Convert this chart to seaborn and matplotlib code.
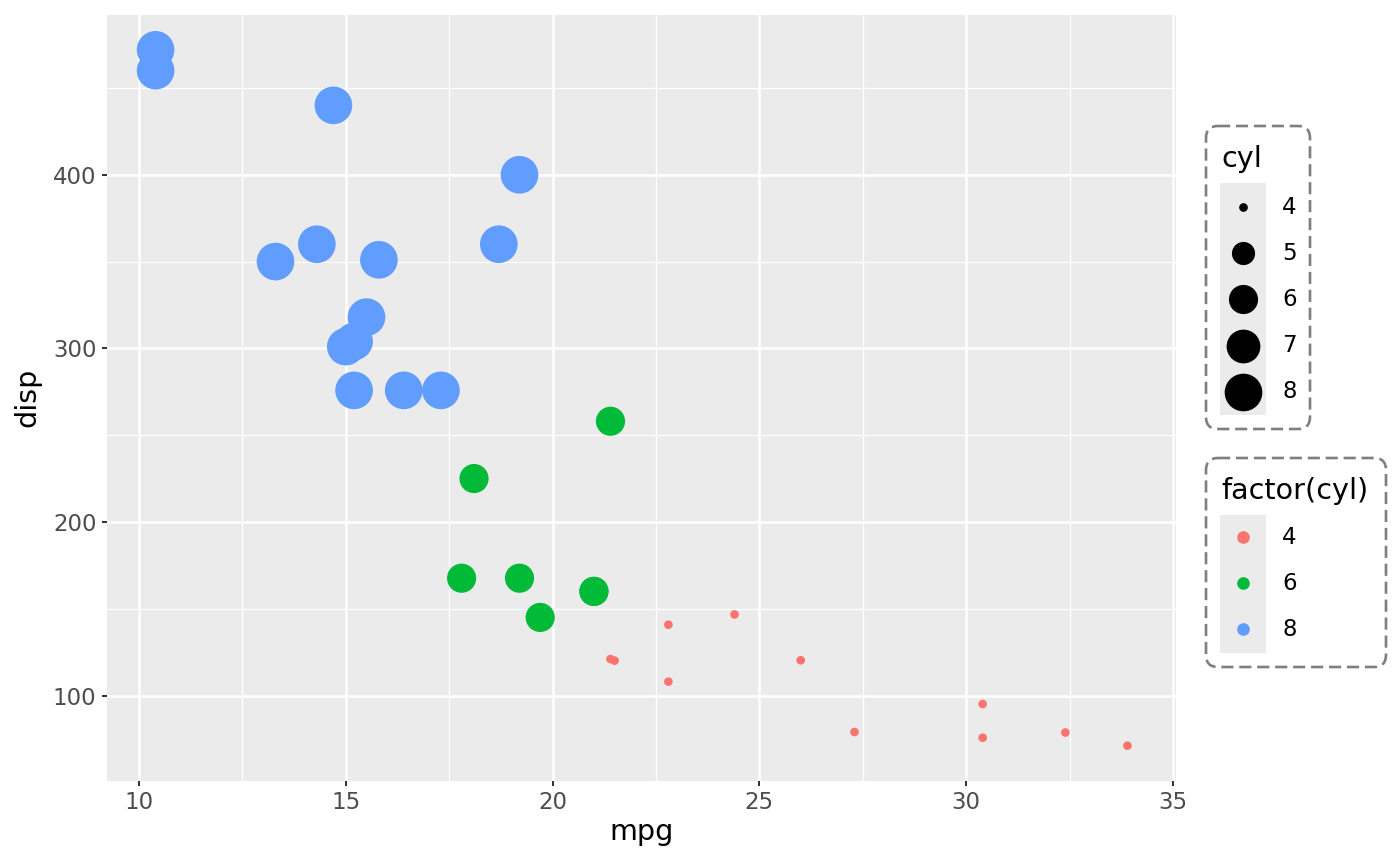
import numpy as np
import pandas as pd
import matplotlib
matplotlib.use("Agg")
import matplotlib.pyplot as plt
import seaborn as sns
from matplotlib.patches import FancyBboxPatch, Rectangle
from matplotlib.ticker import MultipleLocator

# mtcars data
mpg = [21.0, 21.0, 22.8, 21.4, 18.7, 18.1, 14.3, 24.4, 22.8, 19.2, 17.8, 16.4,
       17.3, 15.2, 10.4, 10.4, 14.7, 32.4, 30.4, 33.9, 21.5, 15.5, 15.2, 13.3,
       19.2, 27.3, 26.0, 30.4, 15.8, 19.7, 15.0, 21.4]
cyl = [6, 6, 4, 6, 8, 6, 8, 4, 4, 6, 6, 8, 8, 8, 8, 8, 8, 4, 4, 4, 4, 8, 8, 8,
       8, 4, 4, 4, 8, 6, 8, 4]
disp = [160, 160, 108, 258, 360, 225, 360, 146.7, 140.8, 167.6, 167.6, 275.8,
        275.8, 275.8, 472, 460, 440, 78.7, 75.7, 71.1, 120.1, 318, 304, 350,
        400, 79, 120.3, 95.1, 351, 145, 301, 121]

size_levels = [4, 5, 6, 7, 8]
color_levels = [4, 6, 8]
color_values = ["#F8766D", "#00BA38", "#619CFF"]
x_ticks = [10, 15, 20, 25, 30, 35]
y_ticks = [100, 200, 300, 400]

df = pd.DataFrame({"mpg": mpg, "cyl": cyl, "disp": disp})
df["cyl_f"] = df["cyl"].astype(str)

# ggplot-like area size scale (diameter in pt)
D_MIN, D_MAX = 6.26, 27.1
cmin, cmax = min(cyl), max(cyl)
def diam(v):
    return D_MIN + (D_MAX - D_MIN) * np.sqrt((v - cmin) / (cmax - cmin))

sizes = {v: diam(v) ** 2 for v in sorted(set(cyl))}
palette = {str(k): c for k, c in zip(color_levels, color_values)}

W, H = 1400, 865
fig = plt.figure(figsize=(14, 8.65), dpi=100)
fig.patch.set_facecolor("white")

ax_l, ax_r, ax_t, ax_b = 107, 1176, 15, 780.5
ax = fig.add_axes([ax_l / W, (H - ax_b) / H, (ax_r - ax_l) / W, (ax_b - ax_t) / H])
ax.set_facecolor("#EBEBEB")

sns.scatterplot(data=df, x="mpg", y="disp", hue="cyl_f", size="cyl",
                sizes=sizes, palette=palette, legend=False, linewidth=0,
                alpha=1, ax=ax, zorder=3)

# ggplot default expansion 5%
xr = max(mpg) - min(mpg)
yr = max(disp) - min(disp)
ax.set_xlim(min(mpg) - 0.05 * xr, max(mpg) + 0.05 * xr)
ax.set_ylim(min(disp) - 0.05 * yr, max(disp) + 0.05 * yr)

ax.set_xticks(x_ticks)
ax.set_yticks(y_ticks)
ax.xaxis.set_minor_locator(MultipleLocator(2.5))
ax.yaxis.set_minor_locator(MultipleLocator(50))
ax.grid(which="major", color="white", linewidth=1.8, zorder=0)
ax.grid(which="minor", color="white", linewidth=0.9, zorder=0)
ax.set_axisbelow(True)
for s in ax.spines.values():
    s.set_visible(False)
ax.tick_params(which="major", length=3.6, width=1.45, color="#333333",
               labelsize=16.5, labelcolor="#4D4D4D", pad=4)
ax.tick_params(which="minor", length=0)

ax.set_xlabel("mpg", fontsize=20.6, color="black")
ax.set_ylabel("disp", fontsize=20.6, color="black")
ax.xaxis.set_label_coords(0.5, (ax_b - 818) / (ax_b - ax_t))
ax.yaxis.set_label_coords((41 - ax_l) / (ax_r - ax_l), 0.5)

# legends overlay in pixel coordinates
lg = fig.add_axes([0, 0, 1, 1], zorder=5)
lg.set_xlim(0, W)
lg.set_ylim(H, 0)
lg.axis("off")
lg.patch.set_alpha(0)

def frame(x0, y0, x1, y1):
    p = FancyBboxPatch((x0, y0), x1 - x0, y1 - y0,
                       boxstyle="round,pad=0,rounding_size=12",
                       fill=False, ec="#7F7F7F", lw=1.9,
                       ls=(0, (4.6, 2.2)), mutation_aspect=1)
    lg.add_patch(p)

# size legend
frame(1206, 126, 1310, 429)
lg.text(1221, 167, "cyl", fontsize=20.6, va="baseline", ha="left")
lg.add_patch(Rectangle((1220, 183), 46, 232, fc="#EBEBEB", ec="none"))
for i, v in enumerate(size_levels):
    y = 207 + i * 46.2
    lg.scatter([1243], [y], s=diam(v) ** 2, color="black", linewidths=0)
    lg.text(1282, y, str(v), fontsize=16.5, va="center", ha="left")

# colour legend
frame(1206, 458, 1386, 667)
lg.text(1221, 499, "factor(cyl)", fontsize=20.6, va="baseline", ha="left")
lg.add_patch(Rectangle((1220, 515), 46, 138, fc="#EBEBEB", ec="none"))
for i, (v, c) in enumerate(zip(color_levels, color_values)):
    y = 537 + i * 46.2
    lg.scatter([1243], [y], s=9.1 ** 2, color=c, linewidths=0)
    lg.text(1282, y, str(v), fontsize=16.5, va="center", ha="left")

fig.savefig("out.png", dpi=100)
